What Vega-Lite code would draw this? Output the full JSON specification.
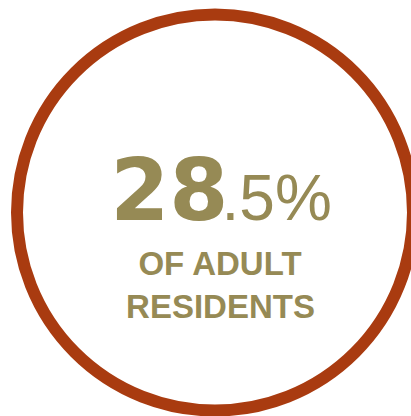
{
  "$schema": "https://vega.github.io/schema/vega-lite/v6.json",
  "width": 411,
  "height": 416,
  "padding": 0,
  "autosize": {"type": "none"},
  "background": "white",
  "config": {"view": {"stroke": null}},
  "data": {"values": [{"share": 28.5, "whole": "28", "fraction": ".5%", "line1": "OF ADULT", "line2": "RESIDENTS"}]},
  "layer": [
    {
      "mark": {"type": "point", "shape": "circle", "filled": false, "size": 156816, "strokeWidth": 12, "color": "#A93B10", "opacity": 1, "xOffset": 9.5, "yOffset": 4.5},
      "encoding": {}
    },
    {
      "mark": {"type": "text", "font": "DejaVu Sans", "fontWeight": "bold", "fontSize": 85, "color": "#968A55", "align": "right", "baseline": "alphabetic", "dx": 23, "dy": 11.5},
      "encoding": {"text": {"field": "whole"}}
    },
    {
      "mark": {"type": "text", "font": "Liberation Sans", "fontWeight": "normal", "fontSize": 64, "color": "#968A55", "align": "left", "baseline": "alphabetic", "dx": 16, "dy": 11.5},
      "encoding": {"text": {"field": "fraction"}}
    },
    {
      "mark": {"type": "text", "font": "Liberation Sans", "fontWeight": "bold", "fontSize": 33, "color": "#968A55", "align": "center", "baseline": "alphabetic", "dx": 14.5, "dy": 67},
      "encoding": {"text": {"field": "line1"}}
    },
    {
      "mark": {"type": "text", "font": "Liberation Sans", "fontWeight": "bold", "fontSize": 33, "color": "#968A55", "align": "center", "baseline": "alphabetic", "dx": 15, "dy": 110},
      "encoding": {"text": {"field": "line2"}}
    }
  ]
}
